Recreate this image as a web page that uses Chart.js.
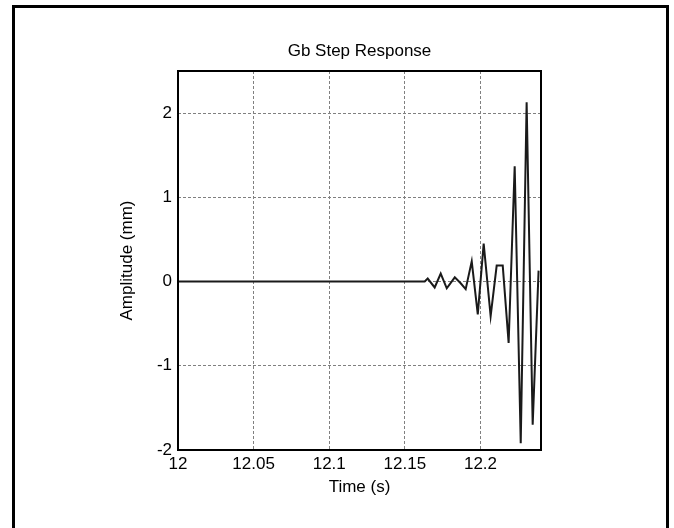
<!DOCTYPE html>
<html>
<head>
<meta charset="utf-8">
<script src="https://cdn.jsdelivr.net/npm/chart.js@4/dist/chart.umd.min.js"></script>
<style>
  html, body { margin: 0; padding: 0; background: #fff; overflow: hidden; }
  #wrap { position: relative; width: 674px; height: 528px; }
  #frame { position: absolute; left: 12px; top: 5px; width: 657px; height: 600px; border: 3px solid #000; box-sizing: border-box; }
  canvas { position: absolute; left: 0; top: 0; }
</style>
</head>
<body>
<div id="wrap">
  <div id="frame"></div>
  <canvas id="chart" width="674" height="528"></canvas>
</div>
<script>
// time (s) and amplitude (mm)
const times = [12, 12.1631, 12.1651, 12.1697, 12.1737, 12.1777, 12.1830, 12.1869, 12.1902,
  12.1942, 12.1982, 12.2021, 12.2067, 12.2107, 12.2147, 12.2186, 12.2226, 12.2266,
  12.2305, 12.2345, 12.2384];
const amplitude = [0, 0, 0.035, -0.07, 0.095, -0.08, 0.05, -0.02, -0.09,
  0.24, -0.39, 0.45, -0.41, 0.19, 0.19, -0.73, 1.37, -1.92,
  2.13, -1.70, 0.13];

const xTicks = [12, 12.05, 12.1, 12.15, 12.2];
const yTicks = [-2, -1, 0, 1, 2];

const FONT = "'Liberation Sans', Arial, sans-serif";

// black box round the plot area
const plotFrame = {
  id: "plotFrame",
  afterDraw(chart) {
    const { ctx, chartArea: a } = chart;
    ctx.save();
    ctx.strokeStyle = "#000";
    ctx.lineWidth = 2;
    ctx.strokeRect(a.left, a.top, a.right - a.left, a.bottom - a.top);
    ctx.restore();
  },
};

const fmt = (v) => String(parseFloat(Number(v).toFixed(4)));

new Chart(document.getElementById("chart"), {
  type: "line",
  data: {
    datasets: [
      {
        data: times.map((t, i) => ({ x: t, y: amplitude[i] })),
        borderColor: "#1a1a1a",
        borderWidth: 2,
        pointRadius: 0,
        tension: 0,
        fill: false,
      },
    ],
  },
  options: {
    responsive: false,
    animation: false,
    devicePixelRatio: 1,
    layout: { padding: { left: 107, right: 62, top: 41, bottom: 28 } },
    plugins: {
      legend: { display: false },
      tooltip: { enabled: false },
      title: {
        display: true,
        text: "Gb Step Response",
        color: "#000",
        font: { family: FONT, size: 17, weight: "normal" },
        padding: { top: 0, bottom: 9.6 },
      },
    },
    scales: {
      x: {
        type: "linear",
        min: 12,
        max: 12.24,
        afterFit: (s) => { s.height = 50; },
        afterBuildTicks: (s) => { s.ticks = xTicks.map((v) => ({ value: v })); },
        ticks: {
          color: "#000",
          font: { family: FONT, size: 17 },
          padding: 4,
          maxRotation: 0,
          callback: fmt,
        },
        grid: { color: "#808080", lineWidth: 1, drawTicks: false },
        border: { display: false, dash: [3, 2] },
        title: {
          display: true,
          text: "Time (s)",
          color: "#000",
          font: { family: FONT, size: 17 },
          padding: { top: 0, bottom: 2 },
        },
      },
      y: {
        min: -2,
        max: 2.5,
        afterFit: (s) => { s.width = 71; },
        afterBuildTicks: (s) => { s.ticks = yTicks.map((v) => ({ value: v })); },
        ticks: {
          color: "#000",
          font: { family: FONT, size: 17 },
          padding: 6,
          callback: fmt,
        },
        grid: { color: "#808080", lineWidth: 1, drawTicks: false },
        border: { display: false, dash: [3, 2] },
        title: {
          display: true,
          text: "Amplitude (mm)",
          color: "#000",
          font: { family: FONT, size: 17 },
          padding: { top: 10, bottom: 0 },
        },
      },
      // empty axis on the right so the title sits centred over the plot
      yRight: {
        position: "right",
        min: -2,
        max: 2.5,
        afterFit: (s) => { s.width = 71; },
        ticks: { display: false },
        grid: { display: false, drawTicks: false },
        border: { display: false },
      },
    },
  },
  plugins: [plotFrame],
});
</script>
</body>
</html>
